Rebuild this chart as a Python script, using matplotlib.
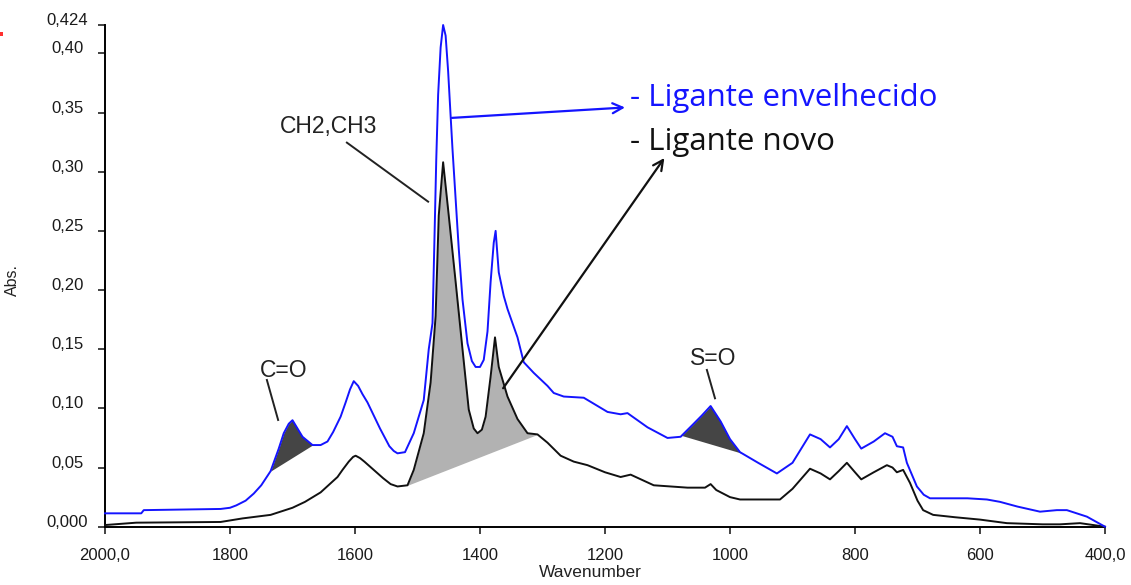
#!/usr/bin/env python3
"""FTIR spectra of aged vs. fresh binder with marked absorption bands."""

import matplotlib

matplotlib.use("Agg")

import matplotlib.pyplot as plt  # noqa: E402
import matplotlib.transforms as mtransforms  # noqa: E402
import numpy as np  # noqa: E402
from matplotlib.patches import Rectangle  # noqa: E402


# aged binder (blue) - wavenumber / absorbance
wn_aged = [2000, 1942, 1938, 1815, 1800, 1790, 1775, 1762, 1750, 1735, 1722, 1714, 1706, 1700,
           1692, 1684, 1668, 1655, 1644, 1635, 1623, 1615, 1608, 1602, 1595, 1588, 1580, 1570,
           1560, 1553, 1545, 1538, 1532, 1520, 1506, 1490, 1482, 1476, 1473, 1470, 1467, 1463,
           1459, 1455, 1451, 1447, 1444, 1439, 1434, 1428, 1420, 1413, 1407, 1400, 1394, 1388,
           1383, 1378, 1375, 1370, 1362, 1356, 1340, 1330, 1314, 1292, 1282, 1266, 1234, 1196,
           1175, 1164, 1132, 1100, 1079, 1060, 1045, 1031, 1015, 1000, 984, 955, 925, 900, 872,
           855, 840, 826, 813, 800, 790, 770, 752, 740, 733, 723, 717, 701, 690, 680, 620, 589,
           568, 540, 504, 477, 461, 429, 400]
abs_aged = [0.0113, 0.0113, 0.014, 0.015, 0.016, 0.018, 0.022, 0.028, 0.035, 0.047, 0.066, 0.079,
            0.087, 0.090, 0.083, 0.076, 0.069, 0.069, 0.072, 0.080, 0.093, 0.105, 0.116, 0.123,
            0.119, 0.112, 0.105, 0.094, 0.083, 0.076, 0.068, 0.064, 0.062, 0.063, 0.079, 0.107,
            0.150, 0.172, 0.240, 0.310, 0.365, 0.405, 0.424, 0.415, 0.385, 0.347, 0.319, 0.277,
            0.235, 0.192, 0.155, 0.140, 0.135, 0.135, 0.141, 0.165, 0.207, 0.240, 0.250, 0.215,
            0.195, 0.184, 0.160, 0.139, 0.130, 0.119, 0.113, 0.110, 0.109, 0.097, 0.095, 0.096,
            0.084, 0.075, 0.076, 0.086, 0.094, 0.102, 0.089, 0.074, 0.063, 0.054, 0.045, 0.054,
            0.078, 0.074, 0.067, 0.074, 0.085, 0.074, 0.066, 0.072, 0.079, 0.076, 0.068, 0.067,
            0.054, 0.034, 0.027, 0.024, 0.024, 0.023, 0.021, 0.017, 0.0127, 0.014, 0.014, 0.0085,
            0.0]

# fresh binder (black)
wn_fresh = [2000, 1950, 1815, 1780, 1735, 1700, 1680, 1655, 1628, 1620, 1610, 1603, 1599, 1592,
            1585, 1570, 1555, 1543, 1532, 1516, 1506, 1490, 1479, 1471, 1466, 1459, 1450, 1439,
            1428, 1418, 1410, 1404, 1397, 1391, 1383, 1376, 1370, 1356, 1340, 1324, 1308, 1292,
            1271, 1250, 1228, 1200, 1175, 1159, 1122, 1068, 1040, 1031, 1022, 1000, 984, 950,
            920, 900, 872, 855, 840, 826, 813, 800, 790, 770, 749, 740, 733, 723, 712, 700, 691,
            675, 640, 600, 557, 500, 472, 440, 400]
abs_fresh = [0.0014, 0.0034, 0.004, 0.007, 0.010, 0.016, 0.021, 0.029, 0.042, 0.048, 0.055,
             0.059, 0.060, 0.058, 0.055, 0.048, 0.041, 0.036, 0.034, 0.035, 0.048, 0.079, 0.122,
             0.178, 0.263, 0.308, 0.263, 0.207, 0.150, 0.099, 0.083, 0.079, 0.082, 0.093, 0.127,
             0.160, 0.135, 0.110, 0.091, 0.079, 0.078, 0.071, 0.060, 0.055, 0.052, 0.046, 0.042,
             0.044, 0.035, 0.033, 0.033, 0.036, 0.031, 0.025, 0.023, 0.023, 0.023, 0.032, 0.049,
             0.045, 0.040, 0.047, 0.054, 0.046, 0.040, 0.046, 0.052, 0.050, 0.046, 0.048, 0.037,
             0.022, 0.014, 0.010, 0.008, 0.006, 0.003, 0.002, 0.002, 0.003, 0.0]

# shaded bands: (from, to) wavenumbers of the straight baseline
band_co = (1735, 1668)
band_ch = (1516, 1308)
band_so = (1077, 981)

y_ticks = [0.0, 0.05, 0.10, 0.15, 0.20, 0.25, 0.30, 0.35, 0.40, 0.424]
y_labels = ["0,000", "0,05", "0,10", "0,15", "0,20", "0,25", "0,30", "0,35", "0,40", "0,424"]
x_ticks = [2000, 1800, 1600, 1400, 1200, 1000, 800, 600, 400]
x_labels = ["2000,0", "1800", "1600", "1400", "1200", "1000", "800", "600", "400,0"]

BLUE = "#1414ff"
NARROW = ["Liberation Sans Narrow", "Liberation Sans", "DejaVu Sans"]
SANS = ["Liberation Sans", "DejaVu Sans"]


def band_fill(ax, wn, ab, band, color):
    wn = np.asarray(wn, dtype=float)
    ab = np.asarray(ab, dtype=float)
    lo, hi = min(band), max(band)
    order = np.argsort(wn)
    xs, ys = wn[order], ab[order]
    mask = (xs > lo) & (xs < hi)
    x = np.concatenate([[lo], xs[mask], [hi]])
    y = np.interp(x, xs, ys)
    base = np.interp(x, [lo, hi], [np.interp(lo, xs, ys), np.interp(hi, xs, ys)])
    ax.fill_between(x, base, y, color=color, linewidth=0, zorder=1)


def main() -> None:
    fig = plt.figure(figsize=(11.31, 5.85), dpi=100)
    ax = fig.add_axes([105 / 1131, 1 - 526.7 / 585, 1000 / 1131, 501.7 / 585])

    band_fill(ax, wn_aged, abs_aged, band_co, "#454545")
    band_fill(ax, wn_fresh, abs_fresh, band_ch, "#b2b2b2")
    band_fill(ax, wn_aged, abs_aged, band_so, "#454545")

    ax.plot(wn_fresh, abs_fresh, color="#111111", lw=1.4, zorder=3, clip_on=False)
    ax.plot(wn_aged, abs_aged, color=BLUE, lw=1.4, zorder=3, clip_on=False)

    ax.set_xlim(2000, 400)
    ax.set_ylim(0, 0.424)
    for side in ["top", "right"]:
        ax.spines[side].set_visible(False)
    for side in ["left", "bottom"]:
        ax.spines[side].set_linewidth(1.4)
    ax.tick_params(axis="both", length=5, width=1.2, color="#222222")

    ax.set_xticks(x_ticks, x_labels, fontsize=12, family=NARROW, color="#1a1a1a")
    ax.tick_params(axis="x", pad=10)
    ax.set_yticks(y_ticks, y_labels, fontsize=12, family=NARROW, color="#1a1a1a")
    ax.tick_params(axis="y", pad=22)
    shift = mtransforms.ScaledTranslation(0, 6 / 100, fig.dpi_scale_trans)
    for lab in ax.get_yticklabels():
        lab.set_horizontalalignment("center")
        lab.set_transform(lab.get_transform() + shift)

    ax.set_xlabel("Wavenumber", fontsize=12.5, family=SANS, color="#222222")
    ax.xaxis.set_label_coords(0.485, -0.076)
    ax.set_ylabel("Abs.", fontsize=11.5, family=SANS, color="#222222")
    ax.yaxis.set_label_coords(-0.085, 0.492)

    # legend-like labels with arrows
    ax.text(1160, 0.3556, "- Ligante envelhecido", color=BLUE, fontsize=22.5,
            family=["Open Sans", "DejaVu Sans"], ha="left", va="baseline")
    ax.text(1160, 0.318, "- Ligante novo", color="#111111", fontsize=22.5,
            family=["Open Sans", "DejaVu Sans"], ha="left", va="baseline")
    ax.annotate("", xy=(1168, 0.3543), xytext=(1445, 0.3455),
                arrowprops=dict(arrowstyle="->", color=BLUE, lw=1.6, mutation_scale=18,
                                shrinkA=0, shrinkB=0))
    ax.annotate("", xy=(1105, 0.3116), xytext=(1363, 0.117),
                arrowprops=dict(arrowstyle="->", color="#111111", lw=1.6, mutation_scale=18,
                                shrinkA=0, shrinkB=0))

    # band labels
    ax.text(1720, 0.3327, "CH2,CH3", fontsize=16.5, family=SANS, color="#222222",
            ha="left", va="baseline")
    ax.plot([1613, 1483], [0.3246, 0.2747], color="#222222", lw=1.4)
    ax.text(1752, 0.1265, "C=O", fontsize=16.5, family=SANS, color="#222222",
            ha="left", va="baseline")
    ax.plot([1741, 1723], [0.124, 0.0902], color="#222222", lw=1.4)
    ax.text(1064, 0.1367, "S=O", fontsize=16.5, family=SANS, color="#222222",
            ha="left", va="baseline")
    ax.plot([1037, 1024], [0.1325, 0.1085], color="#222222", lw=1.4)

    # small red mark at the top-left corner of the original picture
    fig.add_artist(Rectangle((0, 1 - 36 / 585), 3 / 1131, 4 / 585, transform=fig.transFigure,
                             color="#ff3030", linewidth=0))

    fig.savefig("out.png", dpi=100)
    plt.close(fig)


if __name__ == "__main__":
    main()
